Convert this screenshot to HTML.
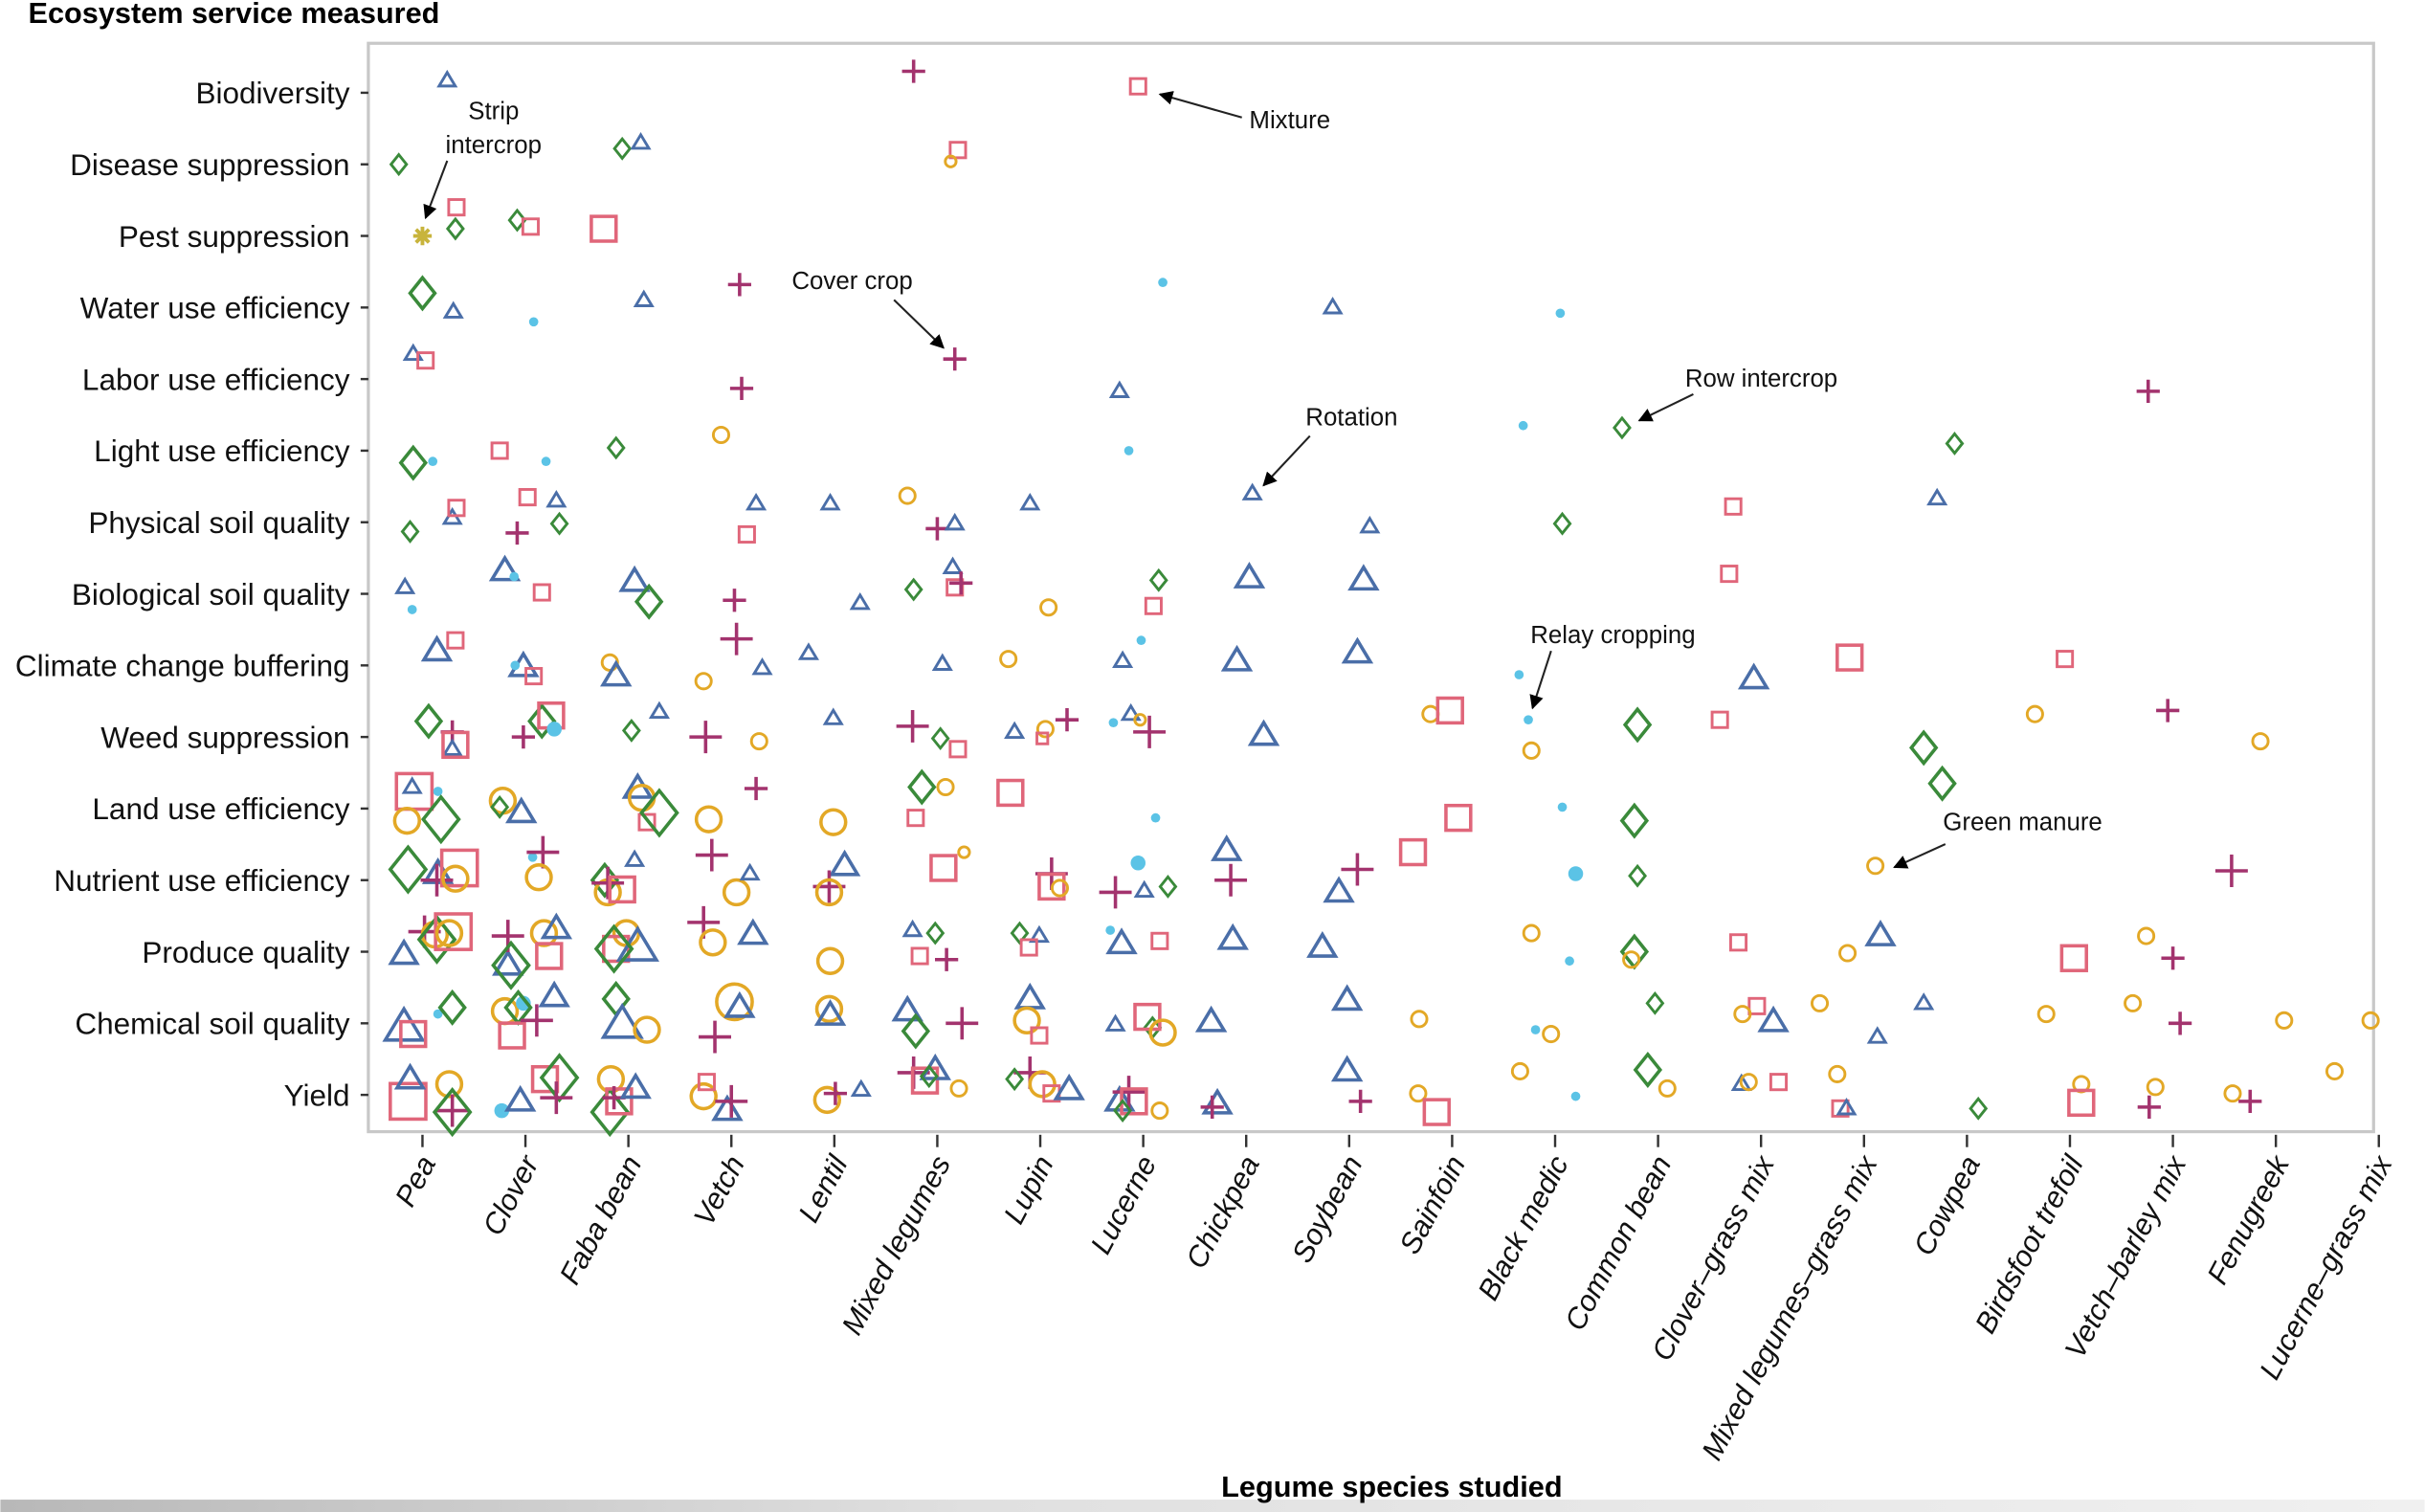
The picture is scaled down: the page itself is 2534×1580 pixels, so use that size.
<!DOCTYPE html>
<html><head><meta charset="utf-8"><style>
html,body{margin:0;padding:0;background:#fff;}
svg{display:block;}
text{font-family:"Liberation Sans",sans-serif;}
</style></head><body>
<svg id="chart" width="2534" height="1580" viewBox="0 0 1568 978" xmlns="http://www.w3.org/2000/svg">
<defs>
<linearGradient id="bstrip" x1="0" x2="1" y1="0" y2="0"><stop offset="0" stop-color="#b8b8b8"/><stop offset="0.4" stop-color="#e0e0e0"/><stop offset="1" stop-color="#f0f0f0"/></linearGradient>
<marker id="arr" viewBox="0 0 10 10" refX="9" refY="5" markerWidth="7" markerHeight="7" orient="auto"><path d="M0,0 L10,5 L0,10 z" fill="#000"/></marker>
</defs>
<rect x="0" y="970" width="1568" height="8" fill="url(#bstrip)"/>
<text x="18" y="15" font-size="19" font-weight="bold">Ecosystem service measured</text>
<text x="900" y="968" font-size="19" font-weight="bold" text-anchor="middle">Legume species studied</text>
<rect x="238" y="28" width="1297" height="704" fill="none" stroke="#c8c8c8" stroke-width="2"/>
<g id="yaxis"></g>
<g id="xaxis"></g>
<g id="marks"></g>
<g id="annot"></g>
</svg>
<script>
const services = ["Biodiversity","Disease suppression","Pest suppression","Water use efficiency","Labor use efficiency","Light use efficiency","Physical soil quality","Biological soil quality","Climate change buffering","Weed suppression","Land use efficiency","Nutrient use efficiency","Produce quality","Chemical soil quality","Yield"];
const species = ["Pea","Clover","Faba bean","Vetch","Lentil","Mixed legumes","Lupin","Lucerne","Chickpea","Soybean","Sainfoin","Black medic","Common bean","Clover–grass mix","Mixed legumes–grass mix","Cowpea","Birdsfoot trefoil","Vetch–barley mix","Fenugreek","Lucerne–grass mix"];
// [species position, service position, practice, size class]
const points = [
[.24,-.17,'T',1],[4.77,-.3,'P',1],[6.95,-.09,'S',1],
[-.23,1,'D',1],[1.94,.78,'D',1],[2.12,.7,'T',1],[5.2,.8,'S',1],[5.13,.96,'C',0],
[0,2,'X',1],[.33,1.6,'S',1],[.32,1.9,'D',1],[.92,1.78,'D',1],[1.05,1.87,'S',1],[1.76,1.9,'S',2],
[0,2.8,'D',2],[.3,3.06,'T',1],[1.08,3.2,'O',1],[2.15,2.9,'T',1],[3.08,2.68,'P',1],[7.19,2.65,'O',1],[8.84,3,'T',1],[11.05,3.08,'O',1],
[-.09,3.65,'T',1],[.03,3.74,'S',1],[3.1,4.13,'P',1],[5.17,3.72,'P',1],[6.77,4.17,'T',1],[16.76,4.17,'P',1],
[-.09,5.17,'D',2],[.1,5.15,'O',1],[.75,5,'S',1],[1.2,5.15,'O',1],[1.88,4.96,'D',1],[2.9,4.78,'C',1],[6.86,5,'O',1],[10.69,4.65,'O',1],[11.65,4.68,'D',1],[14.88,4.9,'D',1],
[-.12,6.13,'D',1],[.29,5.94,'T',1],[.33,5.8,'S',1],[.92,6.15,'P',1],[1.02,5.65,'S',1],[1.3,5.7,'T',1],[1.33,6.02,'D',1],[3.15,6.17,'S',1],[3.24,5.74,'T',1],[3.96,5.74,'T',1],[4.71,5.63,'C',1],[5,6.09,'P',1],[5.17,6.02,'T',1],[5.9,5.74,'T',1],[8.06,5.6,'T',1],[9.2,6.06,'T',1],[11.07,6.02,'D',1],[12.73,5.78,'S',1],[14.71,5.67,'T',1],
[-.17,6.91,'T',1],[-.1,7.22,'O',1],[.8,6.68,'T',2],[.89,6.76,'O',1],[1.16,6.98,'S',1],[2.06,6.83,'T',2],[2.2,7.11,'D',2],[3.03,7.09,'P',1],[4.25,7.13,'T',1],[4.77,6.94,'D',1],[5.15,6.63,'T',1],[5.17,6.91,'S',1],[5.23,6.85,'P',1],[6.08,7.19,'C',1],[7.15,6.81,'D',1],[7.1,7.17,'S',1],[8.03,6.78,'T',2],[9.14,6.81,'T',2],[12.69,6.72,'S',1],
[.14,7.8,'T',2],[.32,7.65,'S',1],[.98,8.02,'T',2],[.9,8,'O',1],[1.08,8.15,'S',1],[1.82,7.96,'C',1],[1.88,8.15,'T',2],[3.05,7.63,'P',2],[2.73,8.22,'C',1],[3.3,8.04,'T',1],[3.75,7.83,'T',1],[5.05,7.98,'T',1],[5.69,7.91,'C',1],[6.98,7.65,'O',1],[6.8,7.94,'T',1],[7.91,7.94,'T',2],[9.08,7.83,'T',2],[10.65,8.13,'O',1],[12.93,8.19,'T',2],[13.86,7.89,'S',2],[15.95,7.91,'S',1],
[.06,8.78,'D',2],[.29,8.93,'P',1],[.29,9.17,'T',1],[.32,9.11,'S',2],[.98,9,'P',1],[1.16,8.78,'D',2],[1.25,8.7,'S',2],[1.28,8.89,'O',2],[2.03,8.91,'D',1],[2.3,8.65,'T',1],[2.75,9,'P',2],[3.27,9.06,'C',1],[3.99,8.74,'T',1],[4.76,8.85,'P',2],[5.03,9.02,'D',1],[5.2,9.17,'S',1],[5.75,8.93,'T',1],[6.05,8.89,'C',1],[6.02,9.02,'S',0],[6.26,8.76,'P',1],[6.71,8.8,'O',1],[6.88,8.68,'T',1],[6.97,8.76,'C',0],[7.06,8.93,'P',2],[8.17,8.98,'T',2],[9.79,8.68,'C',1],[9.98,8.63,'S',2],[10.74,8.76,'O',1],[10.77,9.19,'C',1],[11.8,8.83,'D',2],[12.6,8.76,'S',1],[15.66,8.68,'C',1],[16.95,8.63,'P',1],[14.58,9.15,'D',2],[17.85,9.06,'C',1],
[-.08,9.76,'S',3],[-.1,9.7,'T',1],[.15,9.76,'O',1],[-.15,10.17,'C',2],[.18,10.15,'D',3],[.78,9.89,'C',2],[.96,10.06,'T',2],[.75,9.98,'D',1],[2.09,9.72,'T',2],[2.13,9.85,'C',2],[2.18,10.19,'S',1],[2.3,10.06,'D',3],[2.78,10.15,'C',2],[3.24,9.72,'P',1],[3.99,10.19,'C',2],[4.85,9.7,'D',2],[5.08,9.7,'C',1],[4.79,10.13,'S',1],[5.71,9.78,'S',2],[7.12,10.13,'O',1],[10.06,10.13,'S',2],[11.07,9.98,'O',1],[11.77,10.17,'D',2],[14.76,9.65,'D',2],
[-.14,10.85,'D',3],[.15,10.91,'T',2],[.14,11,'P',2],[.36,10.83,'S',3],[.32,10.98,'C',2],[1.07,10.68,'O',1],[1.17,10.61,'P',2],[1.13,10.96,'C',2],[2.06,10.72,'T',1],[1.77,11,'D',2],[1.8,11.17,'C',2],[1.8,11.04,'P',2],[1.94,11.13,'S',2],[2.81,10.65,'P',2],[3.05,11.17,'C',2],[3.18,10.91,'T',1],[4.1,10.8,'T',2],[3.95,11.09,'P',2],[3.95,11.17,'C',2],[5.06,10.83,'S',2],[5.26,10.61,'C',0],[6.11,10.91,'P',2],[6.11,11.09,'S',2],[6.19,11.11,'C',1],[6.73,11.17,'P',2],[6.95,10.76,'O',2],[7.01,11.15,'T',1],[7.24,11.09,'D',1],[7.81,10.59,'T',2],[7.85,11,'P',2],[9.62,10.61,'S',2],[8.9,11.17,'T',2],[9.08,10.85,'P',2],[11.2,10.91,'O',2],[11.8,10.94,'D',1],[14.11,10.8,'C',1],[17.57,10.87,'P',2],
[-.18,12.04,'T',2],[.02,11.72,'P',2],[.12,11.76,'C',2],[.14,11.83,'D',3],[.3,11.72,'S',3],[.26,11.74,'C',2],[.83,12.19,'T',2],[.83,11.78,'P',2],[.86,12.19,'D',3],[1.18,11.74,'C',2],[1.3,11.68,'T',2],[1.23,12.06,'S',2],[1.98,11.74,'C',2],[1.88,11.96,'S',2],[2.09,11.94,'T',3],[1.86,11.96,'D',3],[2.73,11.59,'P',2],[2.82,11.87,'C',2],[3.21,11.76,'T',2],[3.96,12.13,'C',2],[4.76,11.7,'T',1],[4.98,11.74,'D',1],[4.83,12.06,'S',1],[5.09,12.11,'P',1],[5.8,11.74,'D',1],[5.99,11.78,'T',1],[5.89,11.94,'S',1],[6.68,11.7,'O',1],[6.79,11.89,'T',2],[7.16,11.85,'S',1],[7.87,11.83,'T',2],[8.74,11.94,'T',2],[10.77,11.74,'C',1],[11.14,12.13,'O',1],[11.77,12,'D',2],[11.74,12.11,'C',1],[12.78,11.87,'S',1],[13.84,12.02,'C',1],[14.16,11.78,'T',2],[16.04,12.09,'S',2],[16.74,11.78,'C',1],[17,12.09,'P',1],
[-.18,13.06,'T',3],[-.09,13.15,'S',2],[.15,12.87,'O',1],[.29,12.78,'D',2],[.8,12.83,'C',2],[.98,12.72,'O',2],[.93,12.78,'D',2],[1.28,12.63,'T',2],[.87,13.17,'S',2],[1.11,12.96,'P',2],[1.88,12.66,'D',2],[1.94,13.02,'T',3],[2.18,13.09,'C',2],[2.84,13.19,'P',2],[3.03,12.7,'C',3],[3.08,12.78,'T',2],[3.95,12.8,'C',2],[3.96,12.89,'T',2],[4.71,12.83,'T',2],[4.79,13.11,'D',2],[5.24,13,'P',2],[5.9,12.66,'T',2],[5.87,12.96,'C',2],[5.99,13.17,'S',1],[6.73,13.02,'T',1],[7.09,13.06,'D',1],[7.04,12.91,'S',2],[7.19,13.13,'C',2],[7.66,12.98,'T',2],[8.98,12.68,'T',2],[9.68,12.94,'C',1],[10.81,13.09,'O',1],[10.96,13.15,'C',1],[11.97,12.72,'D',1],[12.96,12.76,'S',1],[12.82,12.87,'C',1],[13.12,12.98,'T',2],[13.57,12.72,'C',1],[14.13,13.19,'T',1],[14.58,12.72,'T',1],[15.77,12.87,'C',1],[16.61,12.72,'C',1],[17.07,13,'P',1],[18.08,12.96,'C',1],[18.92,12.96,'C',1],
[-.14,14.09,'S',3],[-.12,13.78,'T',2],[.26,13.85,'C',2],[.29,14.22,'P',2],[.29,14.24,'D',3],[.77,14.22,'O',2],[.95,14.09,'T',2],[1.19,13.78,'S',2],[1.33,13.76,'D',3],[1.3,14.04,'P',2],[1.83,13.78,'C',2],[1.82,14.24,'D',3],[1.91,14.09,'S',2],[1.86,14.04,'P',1],[2.07,13.91,'T',2],[2.73,14.02,'C',2],[2.76,13.82,'S',1],[2.96,14.22,'T',2],[3,14.09,'P',2],[3.93,14.07,'C',2],[4.01,13.98,'P',1],[4.26,13.93,'T',1],[4.77,13.69,'P',2],[4.88,13.8,'S',2],[4.98,13.65,'T',2],[4.92,13.74,'D',1],[5.21,13.91,'C',1],[5.9,13.69,'P',2],[5.75,13.78,'D',1],[6.02,13.85,'C',2],[6.11,13.98,'S',1],[6.28,13.93,'T',2],[6.77,14.09,'T',2],[6.86,13.96,'P',2],[6.91,14.09,'S',2],[6.8,14.22,'D',1],[7.16,14.22,'C',1],[7.72,14.13,'T',2],[7.67,14.17,'P',1],[8.98,13.67,'T',2],[9.11,14.09,'P',1],[9.67,13.98,'C',1],[9.85,14.24,'S',2],[10.66,13.67,'C',1],[11.2,14.02,'O',1],[11.9,13.65,'D',2],[12.09,13.91,'C',1],[12.81,13.85,'T',1],[12.88,13.82,'C',1],[13.17,13.82,'S',1],[13.74,13.71,'C',1],[13.77,14.19,'S',1],[13.83,14.19,'T',1],[15.11,14.19,'D',1],[16.11,13.85,'C',1],[16.11,14.11,'S',2],[16.83,13.89,'C',1],[16.77,14.17,'P',1],[17.58,13.98,'C',1],[17.75,14.09,'P',1],[18.57,13.67,'C',1]
];
const NS="http://www.w3.org/2000/svg";
const xS = c => 273 + 66.6*c;
const yS = r => 60 + 46.3*r;
function mk(tag, attrs, parent){const e=document.createElementNS(NS,tag);for(const k in attrs)e.setAttribute(k,attrs[k]);parent.appendChild(e);return e;}
const yax=document.getElementById('yaxis'), xax=document.getElementById('xaxis'), mg=document.getElementById('marks'), an=document.getElementById('annot');
services.forEach((s,i)=>{
  const y=yS(i);
  const t=mk('line',{x1:233,x2:238,y1:y,y2:y,stroke:'#333','stroke-width':1.5},yax);
  
  
  const l=mk('text',{x:226,y:y+7,'font-size':19.5,'text-anchor':'end',fill:'#111'},yax);
  l.textContent=s;
  
  
});
species.forEach((s,i)=>{
  const x=xS(i);
  const t=mk('line',{x1:x,x2:x,y1:734,y2:742,stroke:'#333','stroke-width':1.5},xax);
  
  
  const l=mk('text',{x:0,y:0,'font-size':19,'text-anchor':'end','font-style':'italic',fill:'#111',transform:`translate(${x+9},${752}) rotate(-62)`},xax);
  l.textContent=s;
  
  
});
const col={T:'#4a6ea8',D:'#3a8a3a',S:'#e0667a',C:'#e3a826',P:'#a3336e',O:'#5bc3e6',X:'#c8b43c'};
const sz=[3.5,5,8,11.5];
points.forEach(p=>{
  const x=xS(p[0]), y=yS(p[1]), t=p[2], s=sz[p[3]], c=col[t];
  const sw = p[3]>=2 ? 2.2 : 1.8;
  let e;
  if(t==='T') e=mk('polygon',{points:`${x},${y-s*1.05} ${x+s*1.05},${y+s*0.7} ${x-s*1.05},${y+s*0.7}`,fill:'none',stroke:c,'stroke-width':sw},mg);
  else if(t==='D') e=mk('polygon',{points:`${x},${y-s*1.25} ${x+s},${y} ${x},${y+s*1.25} ${x-s},${y}`,fill:'none',stroke:c,'stroke-width':sw},mg);
  else if(t==='S') e=mk('rect',{x:x-s,y:y-s,width:2*s,height:2*s,fill:'none',stroke:c,'stroke-width':sw},mg);
  else if(t==='C') e=mk('circle',{cx:x,cy:y,r:s,fill:'none',stroke:c,'stroke-width':sw},mg);
  else if(t==='P'){const h=s+2.5; e=mk('path',{d:`M${x-h},${y}H${x+h}M${x},${y-h}V${y+h}`,stroke:c,'stroke-width':2.2,fill:'none'},mg);}
  else if(t==='O') e=mk('circle',{cx:x,cy:y,r:s*0.6,fill:c},mg);
  else {const h=6; e=mk('path',{d:`M${x-h},${y}H${x+h}M${x},${y-h}V${y+h}M${x-h*.7},${y-h*.7}L${x+h*.7},${y+h*.7}M${x-h*.7},${y+h*.7}L${x+h*.7},${y-h*.7}`,stroke:c,'stroke-width':2.4},mg);}
  
  
});
function note(lines,tx,ty,x1,y1,x2,y2,name){
  lines.forEach((ln,i)=>{
    const t=mk('text',{x:tx,y:ty+i*22,'font-size':16,'text-anchor':'middle',fill:'#111'},an);
    t.textContent=ln;
    
    
  });
  const a=mk('line',{x1,y1,x2,y2,stroke:'#222','stroke-width':1.3,'marker-end':'url(#arr)'},an);
  
  
}
note(["Strip","intercrop"],319,77,289,104,275,141,'strip-intercrop');
note(["Mixture"],834,83,803,76,750,61,'mixture');
note(["Cover crop"],551,187,578,194,610,225,'cover-crop');
note(["Row intercrop"],1139,250,1095,255,1060,272,'row-intercrop');
note(["Rotation"],874,275,847,282,817,314,'rotation');
note(["Relay cropping"],1043,416,1003,421,991,458,'relay-cropping');
note(["Green manure"],1308,537,1258,546,1225,561,'green-manure');
</script>
</body></html>
